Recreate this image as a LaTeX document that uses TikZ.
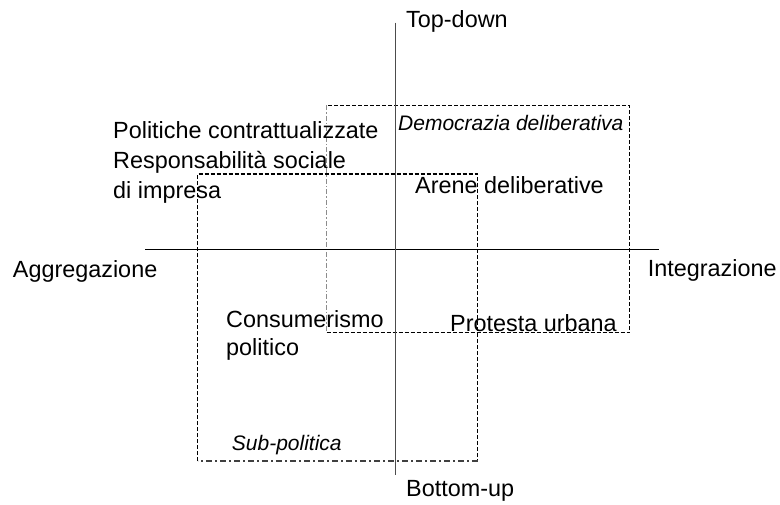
\documentclass[tikz,border=0pt]{standalone}
\usepackage{fontspec}
\setmainfont{Liberation Sans}
\begin{document}
\begin{tikzpicture}[x=1pt,y=-1pt,
  lbl/.style={inner sep=0pt,anchor=base west,font=\fontsize{23.4}{28}\selectfont},
  ilbl/.style={inner sep=0pt,anchor=base west,font=\fontsize{21}{26}\selectfont\itshape},
  vaxis/.style={draw=black!70,line width=1.5pt},
  haxis/.style={draw=black,line width=1.2pt},
  bdash/.style={draw=black,line width=1.5pt,dash pattern=on 4pt off 2pt},
  gdash/.style={draw=black!45,line width=1.2pt,dash pattern=on 5pt off 2pt on 1.5pt off 2pt},
  ddot/.style={draw=black!75,line width=1.3pt,dash pattern=on 6pt off 3pt on 2pt off 3pt}]
\useasboundingbox (0,0) rectangle (780,504);
% axes
\coordinate (vt) at (395.5,22.7);
\coordinate (vb) at (395.5,475);
\coordinate (hl) at (145,249.3);
\coordinate (hr) at (659,249.3);
% box A corners (Democrazia deliberativa)
\coordinate (a1) at (326.5,105.3);
\coordinate (a2) at (629.3,105.3);
\coordinate (a3) at (629.3,332.7);
\coordinate (a4) at (326.5,332.7);
% box B corners (Sub-politica)
\coordinate (b1) at (197.7,174);
\coordinate (b2) at (477.7,174);
\coordinate (b3) at (477.7,461);
\coordinate (b4) at (197.7,461);
% box A
\draw[bdash] (a4) -- (a3) -- (a2) -- (a1);
\draw[gdash] (a1) -- (a4);
% box B
\draw[bdash] (b4) -- (b1) -- (b2) -- (b3);
\draw[ddot] (b3) -- (b4);
% axes
\draw[haxis] (hl) -- (hr);
\draw[vaxis] (vt) -- (vb);
% labels
\node[lbl] (td) at (406,27.7) {Top-down};
\node[lbl] (bu) at (406,496) {Bottom-up};
\node[lbl] (ag) at (12.7,277) {Aggregazione};
\node[lbl] (in) at (647.7,276.7) {Integrazione};
\node[lbl] (pc) at (113,138.3) {Politiche contrattualizzate};
\node[lbl] (rs) at (113,168.5) {Responsabilità sociale};
\node[lbl] (di) at (113,198) {di impresa};
\node[ilbl] (dd) at (398,130.7) {Democrazia deliberativa};
\node[lbl] (ad) at (415,193.5) {Arene deliberative};
\node[lbl] (cm) at (226,327.3) {Consumerismo};
\node[lbl] (po) at (226,355) {politico};
\node[lbl] (pu) at (450,331.7) {Protesta urbana};
\node[ilbl] (sp) at (231.7,450) {Sub-politica};
\end{tikzpicture}
\end{document}
